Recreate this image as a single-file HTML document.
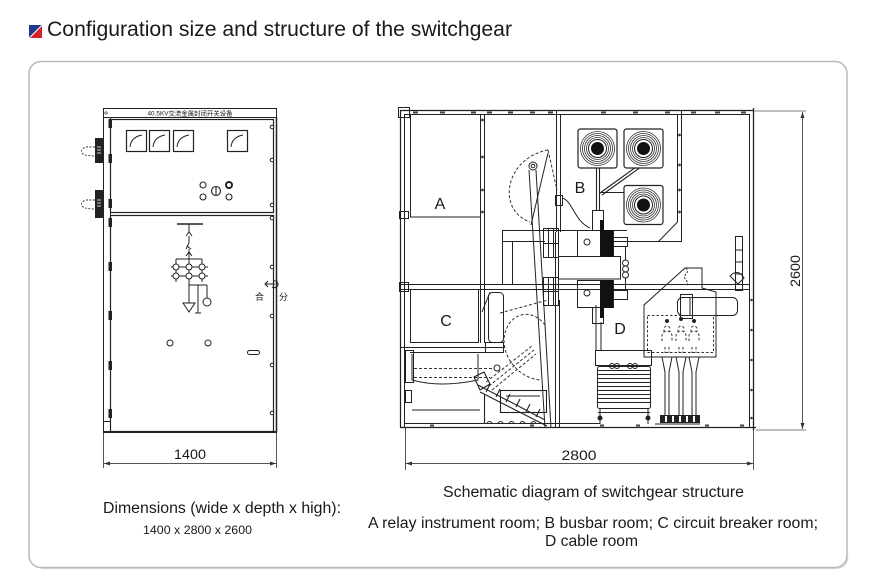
<!DOCTYPE html>
<html><head><meta charset="utf-8">
<style>
html,body{margin:0;padding:0;background:#fff;}
svg{display:block;}
text{font-family:"Liberation Sans","Noto Sans CJK SC",sans-serif;fill:#1a1a1a;}
</style></head><body>
<svg width="869" height="582" viewBox="0 0 869 582" xmlns="http://www.w3.org/2000/svg">
<defs>
  <g id="bush">
    <rect x="-19.5" y="-19.5" width="39" height="39" rx="2.5" fill="#fff" stroke="#222" stroke-width="1.2"/>
    <circle r="17" fill="none" stroke="#333" stroke-width="0.8"/>
    <circle r="15" fill="none" stroke="#333" stroke-width="0.8"/>
    <circle r="13" fill="none" stroke="#333" stroke-width="0.8"/>
    <circle r="11" fill="none" stroke="#333" stroke-width="0.8"/>
    <circle r="9" fill="#fff" stroke="#222" stroke-width="1"/>
    <circle r="6.5" fill="#111"/>
  </g>
  <g id="meter">
    <rect x="0.5" y="0.5" width="20" height="21" fill="none" stroke="#222" stroke-width="1.2"/>
    <path d="M4,17 Q5,7 16,5" fill="none" stroke="#222" stroke-width="1"/>
  </g>
</defs>

<!-- header -->
<polygon points="29,25 41.5,25 29,37.5" fill="#1f3a8e"/>
<polygon points="42,26 42,38 30,38" fill="#d3202a"/>
<text x="47" y="36" font-size="21" textLength="465" lengthAdjust="spacingAndGlyphs">Configuration size and structure of the switchgear</text>

<!-- frame box -->
<rect x="29" y="61.5" width="818" height="506" rx="12" fill="none" stroke="#b8b8b8" stroke-width="1.5"/>
<path d="M41,568.5 L835,568.5 Q847.5,568.5 848,556" fill="none" stroke="#cfcfcf" stroke-width="1"/>

<!-- ============ LEFT FRONT VIEW ============ -->
<g fill="none" stroke="#222" stroke-width="1">
  <rect x="103.5" y="108.5" width="173" height="9"/>
  <line x1="103.5" y1="117" x2="103.5" y2="432"/>
  <line x1="110.5" y1="117" x2="110.5" y2="432"/>
  <line x1="276.5" y1="117" x2="276.5" y2="432" stroke-width="1.5"/>
  <rect x="110.5" y="119.5" width="163" height="93" stroke-width="1.2"/>
  <rect x="110.5" y="215.5" width="163" height="216" stroke-width="1.2"/>
  <line x1="103" y1="432" x2="277" y2="432" stroke-width="2"/>
  <rect x="103.5" y="421.5" width="7" height="10"/>
</g>
<text x="190" y="115.5" font-size="6.5" text-anchor="middle" textLength="85" lengthAdjust="spacingAndGlyphs">40.5KV交流金属封闭开关设备</text>
<circle cx="106" cy="113" r="1.2" fill="none" stroke="#222" stroke-width="0.6"/>

<!-- hinges -->
<g fill="#222">
  <rect x="108.5" y="119" width="3.5" height="9"/>
  <rect x="108.5" y="154" width="3.5" height="9"/>
  <rect x="108.5" y="199" width="3.5" height="9"/>
  <rect x="108.5" y="218" width="3.5" height="9"/>
  <rect x="108.5" y="262" width="3.5" height="9"/>
  <rect x="108.5" y="311" width="3.5" height="9"/>
  <rect x="108.5" y="361" width="3.5" height="9"/>
  <rect x="108.5" y="409" width="3.5" height="9"/>
</g>
<!-- screws -->
<g fill="#fff" stroke="#222" stroke-width="1">
  <circle cx="272" cy="127" r="1.8"/><circle cx="272" cy="160" r="1.8"/>
  <circle cx="272" cy="205" r="1.8"/><circle cx="272" cy="218" r="1.8"/>
  <circle cx="272" cy="267" r="1.8"/><circle cx="272" cy="316" r="1.8"/>
  <circle cx="272" cy="365" r="1.8"/><circle cx="272" cy="413" r="1.8"/>
</g>
<!-- left handles -->
<g>
  <rect x="95" y="138" width="8" height="25" fill="#222"/>
  <rect x="95" y="190" width="8" height="28" fill="#222"/>
  <g stroke="#fff" stroke-width="0.8">
    <line x1="97" y1="147" x2="101" y2="147"/><line x1="97" y1="150" x2="101" y2="150"/><line x1="97" y1="153" x2="101" y2="153"/>
    <line x1="97" y1="200" x2="101" y2="200"/><line x1="97" y1="203" x2="101" y2="203"/><line x1="97" y1="206" x2="101" y2="206"/>
  </g>
  <g fill="none" stroke="#333" stroke-width="0.9" stroke-dasharray="2,1.5">
    <path d="M95,147 L86,147 Q80,149 82,153 Q84,156 95,156"/>
    <path d="M95,200 L86,200 Q80,202 82,206 Q84,209 95,209"/>
  </g>
</g>
<!-- meters -->
<use href="#meter" x="126" y="130"/>
<use href="#meter" x="149" y="130"/>
<use href="#meter" x="173" y="130"/>
<use href="#meter" x="227" y="130"/>
<!-- buttons -->
<g fill="none" stroke="#222" stroke-width="1.1">
  <circle cx="203" cy="185" r="3"/><circle cx="203" cy="197" r="3"/>
  <circle cx="216" cy="191" r="4.5"/><line x1="216" y1="187" x2="216" y2="195"/>
  <circle cx="229" cy="185" r="3" stroke-width="2"/><circle cx="229" cy="197" r="3"/>
</g>
<!-- single line diagram -->
<g fill="none" stroke="#222" stroke-width="1">
  <line x1="177" y1="224" x2="203" y2="224" stroke-width="1.6"/>
  <line x1="189" y1="224" x2="189" y2="232"/>
  <path d="M186,236 L189,232 L192,236"/>
  <line x1="189" y1="236" x2="189" y2="243"/>
  <path d="M189,243 L186,249 M187,246 L191,249"/>
  <line x1="189" y1="249" x2="189" y2="252"/>
  <path d="M186,256 L189,252 L192,256"/>
  <line x1="189" y1="252" x2="189" y2="262"/>
  <line x1="176" y1="259" x2="202" y2="259"/>
  <line x1="176" y1="259" x2="176" y2="282"/>
  <line x1="202" y1="259" x2="202" y2="282"/>
  <line x1="189" y1="259" x2="189" y2="303"/>
  <line x1="171" y1="267" x2="208" y2="267"/>
  <line x1="171" y1="276" x2="208" y2="276"/>
  <circle cx="176" cy="267" r="3" fill="#fff"/><circle cx="189" cy="267" r="3" fill="#fff"/><circle cx="202" cy="267" r="3" fill="#fff"/>
  <circle cx="176" cy="276" r="3" fill="#fff"/><circle cx="189" cy="276" r="3" fill="#fff"/><circle cx="202" cy="276" r="3" fill="#fff"/>
  <line x1="189" y1="285" x2="207" y2="285"/>
  <path d="M183,303 L195,303 L189,312 Z"/>
  <line x1="198" y1="285" x2="198" y2="313"/>
  <line x1="195" y1="313" x2="201" y2="313"/>
  <line x1="207" y1="285" x2="207" y2="298"/>
  <circle cx="207" cy="302" r="4"/>
  <circle cx="170" cy="343" r="3"/><circle cx="208" cy="343" r="3"/>
  <rect x="247.5" y="350.5" width="12" height="4" rx="2"/>
  <path d="M265,284 L275,284 M268,281 L265,284 L268,287"/>
  <path d="M273,281 Q278,280 278,285 Q276,289 272,287"/>
</g>
<text x="255" y="300" font-size="9">合</text>
<text x="279" y="300" font-size="9">分</text>

<!-- dim 1400 -->
<g stroke="#555" stroke-width="1" fill="none">
  <line x1="103.5" y1="433" x2="103.5" y2="468"/>
  <line x1="276.5" y1="433" x2="276.5" y2="468"/>
  <line x1="104" y1="463.5" x2="276" y2="463.5"/>
</g>
<polygon points="104,463.5 110,461.5 110,465.5" fill="#333"/>
<polygon points="276,463.5 270,461.5 270,465.5" fill="#333"/>
<text x="190" y="459" font-size="14" text-anchor="middle" textLength="32" lengthAdjust="spacingAndGlyphs">1400</text>

<!-- ============ RIGHT SECTION VIEW ============ -->
<g fill="none" stroke="#222" stroke-width="1">
  <!-- top rail -->
  <line x1="400" y1="110.5" x2="753" y2="110.5" stroke-width="1.3"/>
  <line x1="404" y1="114.5" x2="750" y2="114.5"/>
  <rect x="398.5" y="107.5" width="11" height="10"/>
  <!-- left walls -->
  <line x1="400.5" y1="110" x2="400.5" y2="428" stroke-width="1.2"/>
  <line x1="404.5" y1="114" x2="404.5" y2="428"/>
  <rect x="399.5" y="211.5" width="9" height="7"/>
  <!-- A room -->
  <rect x="410.5" y="114.5" width="70" height="102.5"/>
  <line x1="480.5" y1="114" x2="480.5" y2="343"/>
  <line x1="484.5" y1="114" x2="484.5" y2="343"/>
  <!-- B left wall -->
  <line x1="556.5" y1="110" x2="556.5" y2="232"/>
  <line x1="560.5" y1="114" x2="560.5" y2="232"/>
  <!-- B room right wall -->
  <line x1="677.5" y1="114" x2="677.5" y2="222"/>
  <line x1="681.5" y1="110" x2="681.5" y2="242"/>
  <line x1="677.5" y1="222" x2="658" y2="242"/>
  <line x1="612" y1="241.5" x2="682" y2="241.5"/>
  <!-- right frame -->
  <line x1="749.5" y1="114" x2="749.5" y2="428"/>
  <line x1="753.5" y1="108" x2="753.5" y2="430" stroke-width="1.3"/>
  <!-- bottom -->
  <line x1="400" y1="427.5" x2="756" y2="427.5" stroke-width="1.3"/>
  <line x1="405" y1="423.5" x2="600" y2="423.5"/>
  <!-- mid horizontal -->
  <line x1="400" y1="284.5" x2="750" y2="284.5"/>
  <line x1="400" y1="289.5" x2="750" y2="289.5"/>
  <rect x="399.5" y="282.5" width="9" height="9"/>
  <!-- C room -->
  <rect x="410.5" y="289.5" width="68" height="53"/>
  <rect x="488.5" y="292.5" width="15" height="50" rx="4"/>
  <line x1="482" y1="312" x2="490" y2="292"/>
  <line x1="400" y1="347.5" x2="505" y2="347.5"/>
  <line x1="410" y1="352.5" x2="497" y2="352.5"/>
  <rect x="485.5" y="342.5" width="18" height="10"/>
  <path d="M412,354 L412,380 Q440,388 478,380 L478,354"/>
  <rect x="405.5" y="350.5" width="8" height="32"/>
  <rect x="405.5" y="390.5" width="6" height="12"/>
  <line x1="412" y1="410" x2="480" y2="410"/>
</g>
<g fill="none" stroke="#333" stroke-width="1" stroke-dasharray="3,2">
  <line x1="414" y1="368.5" x2="496" y2="368.5"/>
  <line x1="414" y1="377.5" x2="490" y2="377.5"/>
  <!-- upper dashed arc -->
  <path d="M548,150 C505,158 496,210 530,222"/>
  <path d="M548,150 L557,190"/>
  <!-- lower dashed arc -->
  <path d="M545,325 C530,305 505,315 504,340 C504,360 520,378 540,380"/>
  <line x1="486" y1="382" x2="532" y2="346"/>
  <line x1="489" y1="386" x2="534" y2="350"/>
  <line x1="492" y1="390" x2="536" y2="354"/>
  <line x1="500" y1="313" x2="548" y2="300" />
</g>
<circle cx="497" cy="368" r="3" fill="#fff" stroke="#222"/>

<!-- bolt marks on rails -->
<g fill="#444">
  <rect x="413" y="111.5" width="5" height="2"/><rect x="440" y="111.5" width="5" height="2"/>
  <rect x="471" y="111.5" width="5" height="2"/><rect x="487" y="111.5" width="5" height="2"/>
  <rect x="508" y="111.5" width="5" height="2"/><rect x="530" y="111.5" width="5" height="2"/>
  <rect x="548" y="111.5" width="5" height="2"/><rect x="601" y="111.5" width="5" height="2"/>
  <rect x="633" y="111.5" width="5" height="2"/><rect x="665" y="111.5" width="5" height="2"/>
  <rect x="691" y="111.5" width="5" height="2"/><rect x="715" y="111.5" width="5" height="2"/>
  <rect x="741" y="111.5" width="5" height="2"/>
  <circle cx="482.5" cy="120" r="1.4"/><circle cx="482.5" cy="157" r="1.4"/>
  <circle cx="482.5" cy="190" r="1.4"/><circle cx="482.5" cy="212" r="1.4"/>
  <circle cx="679.5" cy="135" r="1.4"/><circle cx="679.5" cy="165" r="1.4"/>
  <circle cx="679.5" cy="190" r="1.4"/><circle cx="679.5" cy="212" r="1.4"/>
  <circle cx="751.5" cy="300" r="1.3"/><circle cx="751.5" cy="330" r="1.3"/>
  <circle cx="751.5" cy="360" r="1.3"/><circle cx="751.5" cy="390" r="1.3"/>
  <circle cx="751.5" cy="418" r="1.3"/>
  <rect x="430" y="424.5" width="4" height="2"/><rect x="530" y="424.5" width="4" height="2"/>
  <rect x="600" y="424.5" width="4" height="2"/><rect x="636" y="424.5" width="4" height="2"/>
  <rect x="705" y="424.5" width="4" height="2"/><rect x="740" y="424.5" width="4" height="2"/>
</g>

<!-- breaker pole lines -->
<g fill="none" stroke="#222" stroke-width="1">
  <circle cx="533" cy="166" r="4"/><circle cx="533" cy="166" r="1.8"/>
  <line x1="529" y1="170" x2="545" y2="428"/>
  <line x1="536" y1="170" x2="551" y2="428"/>
  <line x1="548" y1="153" x2="531" y2="225"/>
  <line x1="555.5" y1="232" x2="555.5" y2="428"/>
  <line x1="559.5" y1="300" x2="559.5" y2="428"/>
  <rect x="555.5" y="195.5" width="7" height="10"/>
  <path d="M562,198 C572,200 575,222 590,228"/>
  <!-- breaker frame -->
  <line x1="502" y1="230.5" x2="627" y2="230.5"/>
  <line x1="502" y1="241.5" x2="545" y2="241.5"/>
  <line x1="502.5" y1="230" x2="502.5" y2="284"/>
  <line x1="512.5" y1="241" x2="512.5" y2="284"/>
  <!-- bushings -->
  <rect x="543.5" y="228.5" width="15" height="29"/>
  <rect x="543.5" y="277.5" width="15" height="28"/>
  <line x1="548.5" y1="229" x2="548.5" y2="257"/><line x1="553.5" y1="229" x2="553.5" y2="257"/>
  <line x1="548.5" y1="278" x2="548.5" y2="305"/><line x1="553.5" y1="278" x2="553.5" y2="305"/>
  <line x1="543" y1="243.5" x2="559" y2="243.5"/><line x1="543" y1="291.5" x2="559" y2="291.5"/>
  <!-- shutter bar -->
  <rect x="558.5" y="256.5" width="62" height="22.5"/>
  <!-- contacts -->
  <rect x="577.5" y="230.5" width="36" height="26"/>
  <rect x="592.5" y="210.5" width="11" height="20"/>
  <rect x="577.5" y="280.5" width="36" height="27"/>
  <rect x="592.5" y="307.5" width="11" height="16"/>
  <rect x="613.5" y="237.5" width="14" height="9"/>
  <rect x="613.5" y="290.5" width="14" height="9"/>
  <line x1="627" y1="241.5" x2="660" y2="241.5"/>
  <!-- coil -->
  <line x1="625.5" y1="247" x2="625.5" y2="260"/>
  <circle cx="625.5" cy="263" r="3"/><circle cx="625.5" cy="269" r="3"/><circle cx="625.5" cy="275" r="3"/>
  <line x1="625.5" y1="278" x2="625.5" y2="290"/>
  <circle cx="587" cy="242" r="3"/><circle cx="587" cy="293" r="3"/>
</g>
<g fill="#111">
  <rect x="600" y="230" width="13" height="27"/>
  <rect x="600" y="220" width="4" height="10"/>
  <rect x="600" y="280" width="13" height="28"/>
  <rect x="600" y="308" width="4" height="10"/>
</g>

<!-- busbar links -->
<g fill="none" stroke="#222" stroke-width="1.1">
  <line x1="596.5" y1="168" x2="596.5" y2="211"/>
  <line x1="599.5" y1="168" x2="599.5" y2="211"/>
  <line x1="643" y1="162" x2="600" y2="193"/>
  <line x1="645" y1="164" x2="602" y2="195"/>
  <line x1="599" y1="192.5" x2="640" y2="192.5"/>
</g>
<use href="#bush" x="597.5" y="148.5"/>
<use href="#bush" x="643.5" y="148.5"/>
<use href="#bush" x="643.5" y="205"/>

<!-- racking rail -->
<g fill="none" stroke="#222" stroke-width="1.1">
  <line x1="478" y1="385" x2="545" y2="420"/>
  <line x1="480" y1="392" x2="547" y2="426"/>
  <line x1="486" y1="392" x2="490" y2="384"/><line x1="496" y1="397" x2="500" y2="389"/>
  <line x1="506" y1="402" x2="510" y2="394"/><line x1="516" y1="407" x2="520" y2="399"/>
  <line x1="526" y1="412" x2="530" y2="404"/><line x1="536" y1="417" x2="540" y2="409"/>
  <path d="M474,377 L484,372 L490,384 L480,390 Z"/>
  <rect x="500.5" y="390.5" width="46" height="22"/>
  <line x1="506" y1="396" x2="540" y2="396"/>
  <path d="M487,424 a2.5,2.5 0 0 1 5,0 M498,424 a2.5,2.5 0 0 1 5,0 M509,424 a2.5,2.5 0 0 1 5,0 M520,424 a2.5,2.5 0 0 1 5,0 M531,424 a2.5,2.5 0 0 1 5,0"/>
  <line x1="484.5" y1="395" x2="484.5" y2="424"/>
</g>

<!-- D room -->
<g fill="none" stroke="#222" stroke-width="1">
  <path d="M644,357 L644,305 L685,268 L702,268 L702,288 L716,292 L716,357 Z"/>
  <rect x="677.5" y="297.5" width="60" height="18" rx="5"/>
  <line x1="690" y1="297" x2="690" y2="316"/>
  <rect x="680.5" y="294.5" width="12" height="24"/>
  <path d="M686,268 q3,3 0,6 q-3,3 0,6 q3,3 0,6" stroke-dasharray="2,1.5"/>
  <path d="M730,276 q8,-8 14,2 l-6,6 z"/>
  <rect x="735.5" y="236.5" width="7" height="54"/>
  <line x1="735" y1="250" x2="743" y2="250"/><line x1="735" y1="262" x2="743" y2="262"/><line x1="735" y1="274" x2="743" y2="274"/>
  <!-- cables -->
  <path d="M662,357 L665,372 L665,418 M672,357 L669,372 L669,418"/>
  <path d="M676,357 L679,372 L679,418 M686,357 L683,372 L683,418"/>
  <path d="M689,357 L692,372 L692,418 M699,357 L696,372 L696,418"/>
  <!-- CT stack -->
  <rect x="595.5" y="350.5" width="56" height="15"/>
  <line x1="596" y1="305" x2="596" y2="350"/>
  <line x1="601" y1="322" x2="601" y2="350"/>
  <rect x="597.5" y="366.5" width="53" height="42" rx="2"/>
  <line x1="598" y1="370.5" x2="650" y2="370.5"/><line x1="598" y1="374.5" x2="650" y2="374.5"/>
  <line x1="598" y1="378.5" x2="650" y2="378.5"/><line x1="598" y1="382.5" x2="650" y2="382.5"/>
  <line x1="598" y1="386.5" x2="650" y2="386.5"/><line x1="598" y1="390.5" x2="650" y2="390.5"/>
  <line x1="598" y1="394.5" x2="650" y2="394.5"/><line x1="598" y1="398.5" x2="650" y2="398.5"/>
  <line x1="598" y1="402.5" x2="650" y2="402.5"/>
  <line x1="598" y1="412.5" x2="650" y2="412.5"/>
  <line x1="600" y1="409" x2="600" y2="424"/><line x1="648" y1="409" x2="648" y2="424"/>
  <circle cx="612" cy="366" r="2.5"/><circle cx="617" cy="366" r="2.5"/>
  <circle cx="630" cy="366" r="2.5"/><circle cx="635" cy="366" r="2.5"/>
  <line x1="655" y1="424" x2="700" y2="424"/>
</g>
<g fill="none" stroke="#333" stroke-width="1" stroke-dasharray="2.5,2">
  <rect x="647.5" y="315.5" width="66" height="37"/>
  <path d="M662,341 v-5 a5,5 0 0 1 10,0 v5 M676,341 v-5 a5,5 0 0 1 10,0 v5 M689,341 v-5 a5,5 0 0 1 10,0 v5"/>
  <path d="M664,332 v-3 a3,3 0 0 1 6,0 v3 M678,332 v-3 a3,3 0 0 1 6,0 v3 M691,332 v-3 a3,3 0 0 1 6,0 v3"/>
  <path d="M665,347 v6 M669,347 v6 M679,347 v6 M683,347 v6 M692,347 v6 M696,347 v6"/>
</g>
<g fill="#222">
  <circle cx="667" cy="321" r="2"/><circle cx="681" cy="319" r="2"/><circle cx="694" cy="321" r="2"/>
  <rect x="660" y="415" width="40" height="8"/>
  <circle cx="600" cy="418" r="2.5"/><circle cx="648" cy="418" r="2.5"/>
</g>
<g fill="#fff">
  <rect x="665" y="416" width="2" height="6"/><rect x="672" y="416" width="2" height="6"/>
  <rect x="679" y="416" width="2" height="6"/><rect x="686" y="416" width="2" height="6"/>
  <rect x="693" y="416" width="2" height="6"/>
</g>

<!-- room labels -->
<text x="440" y="209" font-size="16" text-anchor="middle">A</text>
<text x="580" y="193" font-size="16" text-anchor="middle">B</text>
<text x="446" y="326" font-size="16" text-anchor="middle">C</text>
<text x="620" y="334" font-size="16" text-anchor="middle">D</text>

<!-- dim 2800 -->
<g stroke="#555" stroke-width="1" fill="none">
  <line x1="405.5" y1="428" x2="405.5" y2="470"/>
  <line x1="753.5" y1="430" x2="753.5" y2="470"/>
  <line x1="406" y1="463.5" x2="753" y2="463.5"/>
</g>
<polygon points="406,463.5 412,461.5 412,465.5" fill="#333"/>
<polygon points="753,463.5 747,461.5 747,465.5" fill="#333"/>
<text x="579" y="460" font-size="14" text-anchor="middle" textLength="35" lengthAdjust="spacingAndGlyphs">2800</text>

<!-- dim 2600 -->
<g stroke="#999" stroke-width="1.3" fill="none">
  <line x1="754" y1="111" x2="806" y2="111"/>
  <line x1="756" y1="430" x2="806" y2="430"/>
</g>
<line x1="802.5" y1="112" x2="802.5" y2="429" stroke="#555" stroke-width="1"/>
<polygon points="802.5,112 800.5,118 804.5,118" fill="#333"/>
<polygon points="802.5,429 800.5,423 804.5,423" fill="#333"/>
<text transform="translate(800,271) rotate(-90)" font-size="14" text-anchor="middle" textLength="32" lengthAdjust="spacingAndGlyphs">2600</text>

<!-- captions -->
<text x="103" y="513" font-size="15.5" textLength="238" lengthAdjust="spacingAndGlyphs">Dimensions (wide x depth x high):</text>
<text x="143" y="534" font-size="12" textLength="109" lengthAdjust="spacingAndGlyphs">1400 x 2800 x 2600</text>
<text x="443" y="497" font-size="15.5" textLength="301" lengthAdjust="spacingAndGlyphs">Schematic diagram of switchgear structure</text>
<text x="368" y="528" font-size="15.5" textLength="450" lengthAdjust="spacingAndGlyphs">A relay instrument room; B busbar room; C circuit breaker room;</text>
<text x="545" y="546" font-size="15.5" textLength="93" lengthAdjust="spacingAndGlyphs">D cable room</text>
</svg>
</body></html>
